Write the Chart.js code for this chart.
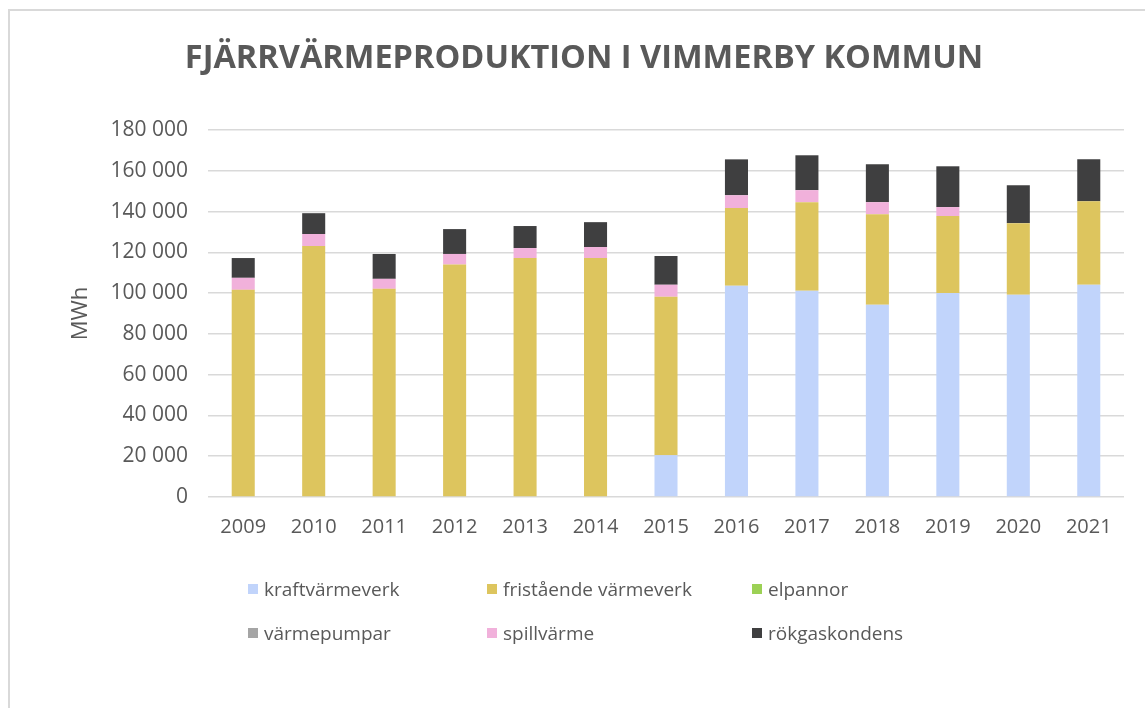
<!DOCTYPE html>
<html>
<head>
<meta charset="utf-8">
<script src="https://cdn.jsdelivr.net/npm/chart.js@4"></script>
<style>
  html, body { margin: 0; padding: 0; background: #fff; overflow: hidden; }
  body { width: 1145px; height: 708px; position: relative; }
  .frame { position: absolute; left: 8px; top: 9px; width: 1200px; height: 800px;
           border-left: 2px solid #d9d9d9; border-top: 2px solid #d9d9d9; }
  #chart { position: absolute; left: 0; top: 0; }
  #legend { position: absolute; left: 0; top: 0; width: 1145px; height: 708px; pointer-events: none;
            font-family: "Open Sans", sans-serif; font-size: 19px; color: #595959; }
  .item { position: absolute; display: flex; align-items: center; white-space: nowrap; }
  .box { width: 10px; height: 10px; margin-right: 6px; }
</style>
</head>
<body>
<div class="frame"></div>
<canvas id="chart" width="1145" height="540"></canvas>
<div id="legend"></div>
<script>
const years = ['2009', '2010', '2011', '2012', '2013', '2014', '2015', '2016', '2017', '2018', '2019', '2020', '2021'];
const kraftvarmeverk = [0, 0, 0, 0, 0, 0, 20500, 103600, 101100, 94300, 100100, 99200, 104100];
const fristaende = [101600, 123100, 102100, 114000, 117200, 117200, 77700, 38100, 43500, 44400, 37700, 35100, 41000];
const elpannor = [0, 0, 0, 0, 0, 0, 0, 0, 0, 0, 0, 0, 0];
const varmepumpar = [0, 0, 0, 0, 0, 0, 0, 0, 0, 0, 0, 0, 0];
const spillvarme = [5900, 5900, 4900, 5200, 4900, 5400, 5900, 6300, 5900, 5900, 4400, 0, 0];
const rokgaskondens = [9700, 10200, 12200, 12200, 10800, 12200, 14100, 17600, 17100, 18600, 20000, 18600, 20500];

const seriesNames = ['kraftvärmeverk', 'fristående värmeverk', 'elpannor', 'värmepumpar', 'spillvärme', 'rökgaskondens'];
const seriesData = [kraftvarmeverk, fristaende, elpannor, varmepumpar, spillvarme, rokgaskondens];
const seriesColors = ['#c1d4fb', '#ddc55e', '#9cd155', '#a5a5a5', '#f1b1db', '#3f3f40'];

const textColor = '#595959';
const fmt = v => String(v).replace(/\B(?=(\d{3})+(?!\d))/g, ' ');

const datasets = seriesNames.map((name, i) => ({
    label: name,
    data: seriesData[i],
    backgroundColor: seriesColors[i],
    borderWidth: 0,
    barPercentage: 0.327,
    categoryPercentage: 1
}));

new Chart(document.getElementById('chart').getContext('2d'), {
    type: 'bar',
    data: { labels: years, datasets: datasets },
    options: {
        responsive: false,
        animation: false,
        layout: { padding: { left: 44, right: 21, top: 0, bottom: 0 } },
        plugins: {
            legend: { display: false },
            tooltip: { enabled: false },
            title: {
                display: true,
                text: 'FJÄRRVÄRMEPRODUKTION I VIMMERBY KOMMUN',
                color: textColor,
                font: { family: 'Open Sans', size: 32.5, weight: 'bold' },
                padding: { top: 39, bottom: 52 }
            }
        },
        scales: {
            x: {
                stacked: true,
                grid: { display: false, drawTicks: false },
                border: { display: false },
                ticks: { color: textColor, font: { family: 'Open Sans', size: 20 }, padding: 18 },
                afterFit: s => { s.height = 43; }
            },
            y: {
                stacked: true,
                min: 0,
                max: 180000,
                ticks: {
                    stepSize: 20000,
                    color: textColor,
                    font: { family: 'Open Sans', size: 21 },
                    padding: 20,
                    callback: v => fmt(v)
                },
                grid: { color: '#d9d9d9', lineWidth: 1.5, drawTicks: false },
                border: { display: false },
                title: {
                    display: true,
                    text: 'MWh',
                    color: textColor,
                    font: { family: 'Open Sans', size: 22 },
                    padding: { top: 24, bottom: 0 }
                },
                afterFit: s => { s.width = 164; }
            }
        }
    }
});

// legend, two rows of three
const legend = document.getElementById('legend');
const colX = [248, 487, 752];
const rowY = [589, 633];
seriesNames.forEach((name, i) => {
    const item = document.createElement('div');
    item.className = 'item';
    item.style.left = colX[i % 3] + 'px';
    item.style.top = (rowY[Math.floor(i / 3)] - 13) + 'px';
    item.style.height = '26px';
    const box = document.createElement('span');
    box.className = 'box';
    box.style.background = seriesColors[i];
    const label = document.createElement('span');
    label.textContent = name;
    item.appendChild(box);
    item.appendChild(label);
    legend.appendChild(item);
});
</script>
</body>
</html>
